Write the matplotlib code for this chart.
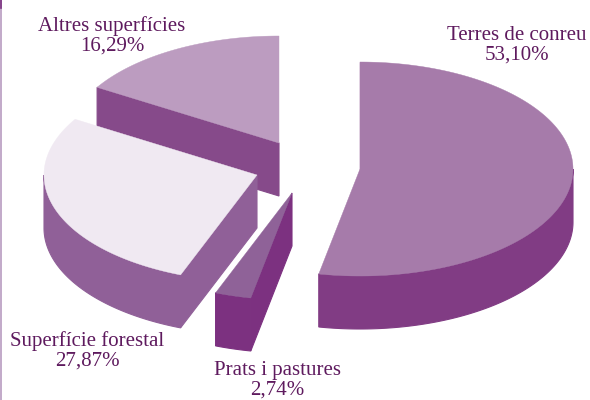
import numpy as np
import matplotlib
matplotlib.use('Agg')
import matplotlib.pyplot as plt
from matplotlib.patches import Polygon

names = ['Terres de conreu', 'Prats i pastures', 'Superfície forestal', 'Altres superfícies']
values = [53.10, 2.74, 27.87, 16.29]
labels = ['53,10%', '2,74%', '27,87%', '16,29%']

top_colors = ['#A67BAA', '#8F6298', '#F0E9F2', '#BC9CC0']
side_colors = ['#813C84', '#7C3180', '#906098', '#864A8A']
text_color = '#5E1A5E'

# apex of each slice in pixels, slices are pulled apart
centers = [(360, 169), (292, 193), (257, 175), (279, 143)]
label_pos = [(517, 45), (277, 380), (87, 351), (112, 36)]
draw_order = [3, 2, 1, 0]

rx = 213
ry = 107
depth = 53

def rim(c, a0, a1):
    # angles clockwise from 12 o'clock, in degrees
    a = np.radians(np.linspace(a0, a1, 200))
    return np.column_stack([c[0] + rx * np.sin(a), c[1] - ry * np.cos(a)])

fig = plt.figure(figsize=(5.9, 4), dpi=100)
ax = fig.add_axes([0, 0, 1, 1])
ax.set_xlim(0, 590)
ax.set_ylim(400, 0)
ax.axis('off')

ends = np.cumsum(values) / sum(values) * 360
starts = ends - np.array(values) / sum(values) * 360

for i in draw_order:
    c = centers[i]
    a0, a1 = starts[i], ends[i]
    down = np.array([0, depth])

    # outer wall, only the front half can be seen
    f0, f1 = max(a0, 90), min(a1, 270)
    if f1 > f0:
        r = rim(c, f0, f1)
        ax.add_patch(Polygon(np.vstack([r, (r + down)[::-1]]), fc=side_colors[i], ec=side_colors[i], lw=0.8))

    # cut face on the starting edge
    p = rim(c, a0, a0)[0]
    ax.add_patch(Polygon([c, p, p + down, np.array(c) + down], fc=side_colors[i], ec=side_colors[i], lw=0.8))

    # top
    ax.add_patch(Polygon(np.vstack([[c], rim(c, a0, a1)]), fc=top_colors[i], ec=top_colors[i], lw=0.3))

for i in range(len(names)):
    ax.text(label_pos[i][0], label_pos[i][1], names[i] + '\n' + labels[i], family='Liberation Serif',
            fontsize=15, color=text_color, ha='center', va='center', linespacing=1.03)

# thin page rule on the left side
ax.plot([0.5, 0.5], [0, 400], color='#B89BC0', lw=1.2)
ax.plot([0.5, 0.5], [0, 8], color='#7C3180', lw=1.2)

fig.savefig('out.png', dpi=100)
